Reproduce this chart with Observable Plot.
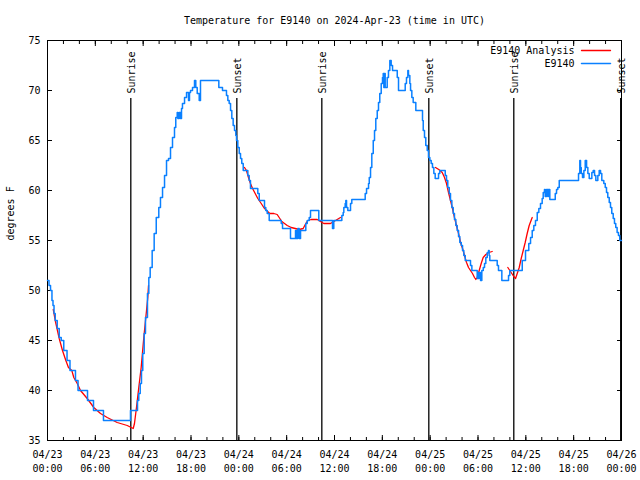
<!DOCTYPE html>
<html><head><meta charset="utf-8">
<script src="https://cdn.jsdelivr.net/npm/d3@7"></script>
<script src="https://cdn.jsdelivr.net/npm/@observablehq/plot@0.6"></script>
<style>body{margin:0;background:#fff} svg{display:block}</style>
</head><body><div id="chart"></div>
<script>
const chartTitle = "Temperature for E9140 on 2024-Apr-23 (time in UTC)";
const yLabel = "degrees F";
const startUTC = Date.UTC(2024, 3, 23);
const spanHours = 72;
const seriesNames = ["E9140 Analysis", "E9140"];
const seriesColors = ["#ff0000", "#0a80ff"];
const yTicks = [35, 40, 45, 50, 55, 60, 65, 70, 75];

// observations: [hours since 04/23 00:00 UTC, degrees F]
const obsReadings = [[0,51],[0.19,50.5],[0.38,50],[0.56,49],[0.69,48.5],[0.82,47.7],[0.97,47],[1.22,46.2],[1.47,45.3],[1.72,45],[2.04,44],[2.45,43],[2.82,42],[3.51,41],[3.83,40],[5.02,39],[5.77,38],[7.02,37],[10.41,38],[11.29,39],[11.45,39.7],[11.63,40.7],[11.79,42],[11.95,43.7],[12.13,45.7],[12.29,47.3],[12.54,49.7],[12.71,51.3],[12.88,52.3],[13.13,54],[13.38,55.7],[13.64,57.3],[13.96,58.3],[14.17,59.3],[14.43,60.3],[14.68,61.5],[14.93,63],[15.18,63.2],[15.43,64.3],[15.68,65.3],[15.93,66.3],[16.09,67.3],[16.27,67.8],[16.35,67.2],[16.52,67.8],[16.68,67.2],[16.81,68.2],[16.93,68.7],[17.19,69.3],[17.44,69.8],[17.69,69],[17.81,69.8],[17.94,70],[18.19,70.3],[18.44,71],[18.6,70.3],[18.78,69.7],[19.03,69],[19.19,71],[21.49,70.3],[21.95,70],[22.45,69.5],[22.62,69],[22.79,68.7],[22.96,68],[23.12,67.2],[23.29,66.5],[23.46,66],[23.62,65.5],[23.71,65],[23.87,64.3],[24.05,63.7],[24.21,63.2],[24.37,62.7],[24.55,62],[25.13,61.5],[25.3,61],[25.46,60.2],[26.38,59.7],[26.56,59],[27.22,58.3],[27.38,58],[27.56,57.7],[27.81,57],[29.32,56.7],[29.48,56.2],[30.48,55.2],[31.11,56],[31.23,55.2],[31.4,56.2],[31.57,55.2],[31.74,56],[32.4,56.7],[32.58,57],[32.83,57.3],[32.99,58],[34.03,57],[35.75,56.2],[35.91,57],[36.92,57.5],[37.09,57.8],[37.17,58.3],[37.34,58.7],[37.42,59],[37.51,58.3],[37.67,58],[38.01,58.7],[38.17,59.1],[39.85,59.7],[40.02,60.2],[40.27,60.7],[40.36,61.3],[40.52,62.3],[40.68,63.7],[40.86,65],[41.02,66],[41.18,67.2],[41.36,68],[41.52,68.8],[41.68,69.7],[41.86,70.7],[42.02,71.3],[42.11,71.7],[42.19,70.3],[42.27,71.7],[42.36,70.3],[42.61,71.3],[42.77,72],[42.94,73],[43.11,72.5],[43.28,72],[43.87,71.3],[44.03,70],[44.87,70.7],[45.03,71.3],[45.2,72],[45.28,71.5],[45.45,70.7],[45.54,70],[45.7,69.3],[45.87,68.8],[46.2,68],[47.04,67],[47.13,66],[47.29,65.3],[47.45,64.5],[47.63,64],[47.79,63.3],[47.96,63],[48.13,62.7],[48.29,62.3],[48.46,61.7],[48.63,61.2],[49.05,61.7],[49.21,62],[49.89,61.5],[50.05,61],[50.21,60.3],[50.39,59.7],[50.55,59],[50.72,58.3],[50.89,57.7],[51.05,57.1],[51.22,56.5],[51.39,56],[51.56,55.4],[51.72,54.8],[51.9,54.5],[52.06,54],[52.22,53.5],[52.4,53],[53.06,52.5],[53.23,52],[53.9,51.2],[53.98,51.8],[54.06,51.2],[54.15,51.8],[54.32,51],[54.48,52],[54.66,52.3],[54.82,52.7],[54.98,53.3],[55.16,53.8],[55.32,54],[55.4,53.5],[55.48,53],[56.41,52.5],[56.57,52],[56.99,51],[57.83,51.5],[57.99,52],[59.55,53],[59.96,54],[60.37,54.7],[60.59,55.3],[60.8,56],[61,56.5],[61.21,57],[61.43,57.8],[61.63,58.2],[61.84,58.7],[62.05,59.2],[62.18,59.8],[62.34,60.1],[62.43,59.4],[62.59,60.1],[62.76,59.4],[62.84,60.1],[63.01,59.1],[63.69,59.7],[63.85,60.1],[64.01,60.3],[64.19,61],[66.61,61.7],[66.77,63],[66.86,62.3],[66.95,61.7],[67.11,61.3],[67.28,62],[67.45,63],[67.62,62.3],[67.78,61.7],[67.95,61.2],[68.28,61.8],[68.45,62],[68.62,61.5],[68.78,61],[69.03,61.5],[69.2,62],[69.37,61.7],[69.53,61],[69.78,60.7],[69.96,60.3],[70.12,59.8],[70.28,59.3],[70.46,58.8],[70.62,58.3],[70.78,57.7],[70.96,57.2],[71.12,56.7],[71.28,56.3],[71.45,55.8],[71.62,55.5],[71.78,55],[72,55]];

// analysis segments: [hours, degrees F]
const anaSegment1 = [[0.72,48.1],[0.97,47],[1.47,45.2],[1.88,44],[2.3,43],[2.63,42.3],[3.05,42],[3.3,41.3],[3.73,40.7],[4.14,40],[4.98,39.2],[5.81,38.3],[6.65,37.7],[7.49,37.3],[8.74,36.8],[10,36.5],[10.5,36.3],[10.75,36.2],[10.91,36.7],[11.16,38.3],[11.45,40.3],[11.75,42.3],[12.08,45.3],[12.42,48],[12.58,49.3],[12.67,50.5]];
const anaSegment2 = [[24.71,62.3],[24.96,62],[25.21,61.3],[25.46,60.7],[25.72,60.2],[26.05,59.7],[26.38,59.2],[26.81,58.7],[27.13,58.3],[27.47,58],[27.89,57.7],[28.39,57.7],[28.81,57.6],[29.06,57.3],[29.39,56.9],[29.73,56.7],[30.07,56.5],[30.57,56.3],[31.07,56.2],[31.57,56.1],[32.07,56.2],[32.4,56.7],[32.65,57],[33.08,57.1],[33.83,57.1],[34.24,56.9],[34.66,56.7],[35.09,56.7],[35.5,56.7],[36.13,57],[36.54,57.2],[36.75,57.3]];
const anaSegment3 = [[48.67,62.3],[49.08,62.1],[49.51,61.8],[49.8,61.3],[50.05,60.7],[50.3,59.8],[50.55,59],[50.8,58.2],[51.05,57.3],[51.3,56.5],[51.56,55.7],[51.81,54.8],[52.06,54.2],[52.31,53.5],[52.56,52.8],[52.81,52.3],[53.06,52],[53.31,51.7],[53.56,51.3],[53.73,51.1],[53.9,51.3],[54.15,52],[54.4,52.7],[54.65,53.3],[54.98,53.6],[55.36,53.8],[55.78,53.9]];
const anaSegment4 = [[57.74,52.3],[57.99,52],[58.24,51.7],[58.49,51.4],[58.71,51.2],[58.92,51.7],[59.17,52.3],[59.42,53.2],[59.67,54],[59.92,54.8],[60.17,55.7],[60.42,56.5],[60.8,57.3]];

const sunEventHours = [10.45, 23.75, 34.41, 47.83, 58.49, 71.9];
const sunEventLabels = ["Sunrise", "Sunset", "Sunrise", "Sunset", "Sunrise", "Sunset"];

const toDate = h => new Date(startUTC + h * 3600e3);
const obs = obsReadings.map(([h, v]) => ({t: toDate(h), v}));
const ana = [anaSegment1, anaSegment2, anaSegment3, anaSegment4]
  .flatMap((seg, i) => seg.map(([h, v]) => ({t: toDate(h), v, seg: i})));
const sun = sunEventHours.map((h, i) => ({t: toDate(h), label: sunEventLabels[i]}));

const lineShape = {draw(ctx, l) { ctx.moveTo(0, 0); ctx.lineTo(0, -l); }};
const font = "DejaVu Sans Mono";

const chart = Plot.plot({
  width: 640, height: 480,
  marginLeft: 47, marginRight: 19, marginTop: 40, marginBottom: 40,
  style: {fontFamily: font, fontSize: "10px", color: "black", background: "white"},
  x: {type: "utc", domain: [toDate(0), toDate(spanHours)]},
  y: {domain: [35, 75]},
  marks: [
    Plot.frame({stroke: "black", strokeWidth: 1}),
    // minor ticks (2 h)
    Plot.axisX({anchor: "bottom", ticks: d3.utcHour.every(2), tickSize: -3, tickFormat: () => "", label: null}),
    Plot.axisX({anchor: "top", ticks: d3.utcHour.every(2), tickSize: -3, tickFormat: () => "", label: null}),
    // major ticks
    Plot.axisX({anchor: "bottom", ticks: d3.utcHour.every(6), tickSize: -5, tickFormat: () => "", label: null}),
    Plot.axisX({anchor: "top", ticks: d3.utcHour.every(6), tickSize: -5, tickFormat: () => "", label: null}),
    Plot.axisX({anchor: "bottom", ticks: d3.utcHour.every(6), tickSize: 0, tickPadding: 8,
      tickFormat: d3.utcFormat("%m/%d\n%H:%M"), lineHeight: 1.4, label: null}),
    Plot.axisY({anchor: "left", ticks: yTicks, tickSize: -5, tickPadding: 12, label: null}),
    Plot.axisY({anchor: "right", ticks: yTicks, tickSize: -5, tickFormat: () => "", label: null}),
    Plot.text([yLabel], {frameAnchor: "left", dx: -37, rotate: -90, lineAnchor: "middle"}),
    Plot.text([chartTitle], {frameAnchor: "top", dy: -20, lineAnchor: "middle"}),
    // sunrise / sunset
    Plot.ruleX(sun, {x: "t", insetTop: 58, stroke: "black", strokeWidth: 1.3}),
    Plot.text(sun, {x: "t", text: "label", frameAnchor: "top", dy: 53, rotate: -90, textAnchor: "start", lineAnchor: "middle", dx: 1}),
    // data
    Plot.line(ana, {x: "t", y: "v", z: "seg", stroke: seriesColors[0], strokeWidth: 1.3}),
    Plot.line(obs, {x: "t", y: "v", curve: "step-after", stroke: seriesColors[1], strokeWidth: 1.5}),
    // legend
    Plot.text([seriesNames[0]], {frameAnchor: "top-right", dx: -47, dy: 10, textAnchor: "end", lineAnchor: "middle"}),
    Plot.text([seriesNames[1]], {frameAnchor: "top-right", dx: -47, dy: 23, textAnchor: "end", lineAnchor: "middle"}),
    Plot.vector([0], {frameAnchor: "top-right", dx: -40, dy: 10, length: 29, rotate: 90, anchor: "start", shape: lineShape, stroke: seriesColors[0], strokeWidth: 1.3}),
    Plot.vector([0], {frameAnchor: "top-right", dx: -40, dy: 23, length: 29, rotate: 90, anchor: "start", shape: lineShape, stroke: seriesColors[1], strokeWidth: 1.5})
  ]
});
document.getElementById("chart").append(chart);
</script>
</body></html>
